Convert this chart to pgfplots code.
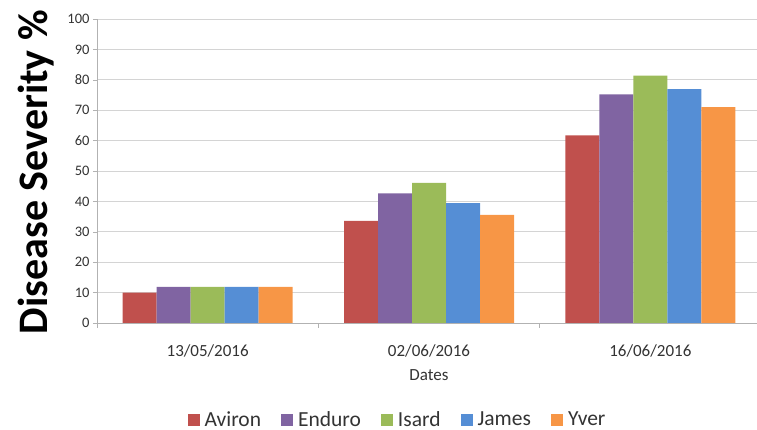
\documentclass[border=0pt]{standalone}
\usepackage{fontspec}
\setmainfont{Carlito}
\usepackage{pgfplots}
\usepackage{pgfplotstable}
\pgfplotsset{compat=1.18}

\definecolor{cAviron}{HTML}{C0504D}
\definecolor{cEnduro}{HTML}{8064A2}
\definecolor{cIsard}{HTML}{9BBB59}
\definecolor{cJames}{HTML}{558ED5}
\definecolor{cYver}{HTML}{F79646}
\definecolor{txt}{HTML}{333333}

% disease severity (%) per sampling date
\pgfplotstableread{
x Aviron Enduro Isard James Yver
0 10.0 11.9 11.9 11.9 11.9
1 33.6 42.6 46.1 39.4 35.6
2 61.7 75.2 81.4 76.9 71.0
}\sev

\begin{document}
\begin{tikzpicture}
\begin{axis}[
    at={(97pt,107pt)}, anchor=south west,
    scale only axis, width=664pt, height=304pt,
    ybar=0pt, bar width=34pt,
    xmin=-0.5, xmax=2.5, ymin=0, ymax=100,
    xtick={0,1,2},
    xticklabels={13/05/2016,02/06/2016,16/06/2016},
    minor xtick={-0.5,0.5,1.5,2.5},
    ytick={0,10,...,100},
    tick align=outside, tick pos=left,
    major tick length=4pt, minor tick length=5pt,
    major x tick style={draw=none},
    every tick/.style={draw=black!30},
    minor tick style={draw=black!30},
    separate axis lines,
    axis x line*=bottom, axis y line*=left,
    axis line style={-, draw=black!30},
    x axis line style={-}, y axis line style={-},
    ymajorgrids, major grid style={draw=black!17, line width=0.8pt},
    /pgf/number format/assume math mode=true,
    xticklabel style={font=\fontsize{17}{18}\selectfont, text=txt, anchor=center, yshift=-24pt},
    yticklabel style={font=\fontsize{14.5}{16}\selectfont, text=txt},
    xlabel={Dates},
    xlabel style={font=\fontsize{17}{18}\selectfont, text=txt, at={(rel axis cs:0.5,-0.172)}, anchor=center},
    ylabel={Disease Severity \%},
    ylabel style={font=\bfseries\fontsize{42}{44}\selectfont, at={(rel axis cs:-0.0919,0.4967)}, anchor=center},
    legend columns=5,
    legend style={draw=none, fill=none, at={(0.4526,-0.3185)}, anchor=center,
        font=\fontsize{21.5}{23}\selectfont, text=txt, column sep=3pt},
    legend image code/.code={\path[#1] (0pt,-6pt) rectangle (12pt,6pt);},
]
\addplot[fill=cAviron, draw=none] table[x=x, y=Aviron] {\sev};
\addplot[fill=cEnduro, draw=none] table[x=x, y=Enduro] {\sev};
\addplot[fill=cIsard, draw=none] table[x=x, y=Isard] {\sev};
\addplot[fill=cJames, draw=none] table[x=x, y=James] {\sev};
\addplot[fill=cYver, draw=none] table[x=x, y=Yver] {\sev};
\legend{Aviron\hspace*{15pt}, Enduro\hspace*{15pt}, Isard\hspace*{15pt}, James\hspace*{15pt}, Yver}
\end{axis}
\pgfresetboundingbox
\useasboundingbox (0pt,0pt) rectangle (757pt,430pt);
\end{tikzpicture}
\end{document}
